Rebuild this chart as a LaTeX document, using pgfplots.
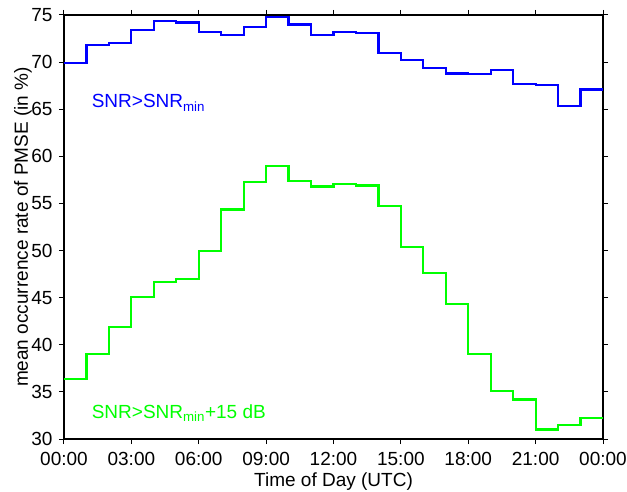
\documentclass[border=0pt]{standalone}
\usepackage{fontspec}
\setmainfont{Liberation Sans}
\usepackage{pgfplots}
\usepackage{pgfplotstable}
\pgfplotsset{compat=1.18}
\pgfplotstableread{
h v
0 69.9
1 71.8
2 72.0
3 73.4
4 74.4
5 74.2
6 73.2
7 72.9
8 73.7
9 74.75
10 74.0
11 72.9
12 73.2
13 73.05
14 71.0
15 70.2
16 69.4
17 68.8
18 68.7
19 69.2
20 67.7
21 67.6
22 65.3
23 67.1
24 67.1
}\blueseries
\pgfplotstableread{
h v
0 36.4
1 39.0
2 41.9
3 45.05
4 46.65
5 46.95
6 49.95
7 54.35
8 57.3
9 59.0
10 57.4
11 56.8
12 57.05
13 56.9
14 54.7
15 50.4
16 47.6
17 44.3
18 39.05
19 35.1
20 34.2
21 31.0
22 31.5
23 32.2
24 32.2
}\greenseries
\begin{document}
\fontsize{19}{22}\selectfont
\begin{tikzpicture}
\begin{axis}[
  width=539pt, height=424pt, scale only axis,
  xmin=0, xmax=24, ymin=30, ymax=75,
  xtick={0,3,...,24},
  xticklabels={00:00,03:00,06:00,09:00,12:00,15:00,18:00,21:00,00:00},
  ytick={30,35,...,75},
  tick align=outside,
  major tick length=5pt,
  tick style={line width=1pt, black},
  axis line style={line width=1.5pt},
  font=\fontsize{19}{22}\selectfont,
  /pgf/number format/assume math mode=true,
  xlabel={Time of Day (UTC)},
  ylabel={mean occurrence rate of PMSE (in \%)},
  xlabel style={at={([yshift=-47pt]axis description cs:0.5,0)}, anchor=base},
  ylabel style={at={([xshift=-41pt]axis description cs:0,0.5)}, anchor=center},
  xticklabel style={anchor=base, yshift=-21pt},
  clip=false,
]
\addplot[const plot, color={rgb,255:red,0;green,0;blue,255}, line width=2.2pt] table[x=h,y=v] {\blueseries};
\addplot[const plot, color={rgb,255:red,0;green,255;blue,0}, line width=2.2pt] table[x=h,y=v] {\greenseries};
\node[anchor=base west, inner sep=0pt, text={rgb,255:red,0;green,0;blue,255}] at (axis cs:1.23,65.2) {SNR>SNR\textsubscript{min}};
\node[anchor=base west, inner sep=0pt, text={rgb,255:red,0;green,255;blue,0}] at (axis cs:1.23,32.2) {SNR>SNR\textsubscript{min}+15 dB};
\end{axis}
\pgfresetboundingbox
\path ([xshift=-64pt,yshift=-52pt]current axis.south west) rectangle ([xshift=24pt,yshift=15pt]current axis.north east);
\end{tikzpicture}
\end{document}
